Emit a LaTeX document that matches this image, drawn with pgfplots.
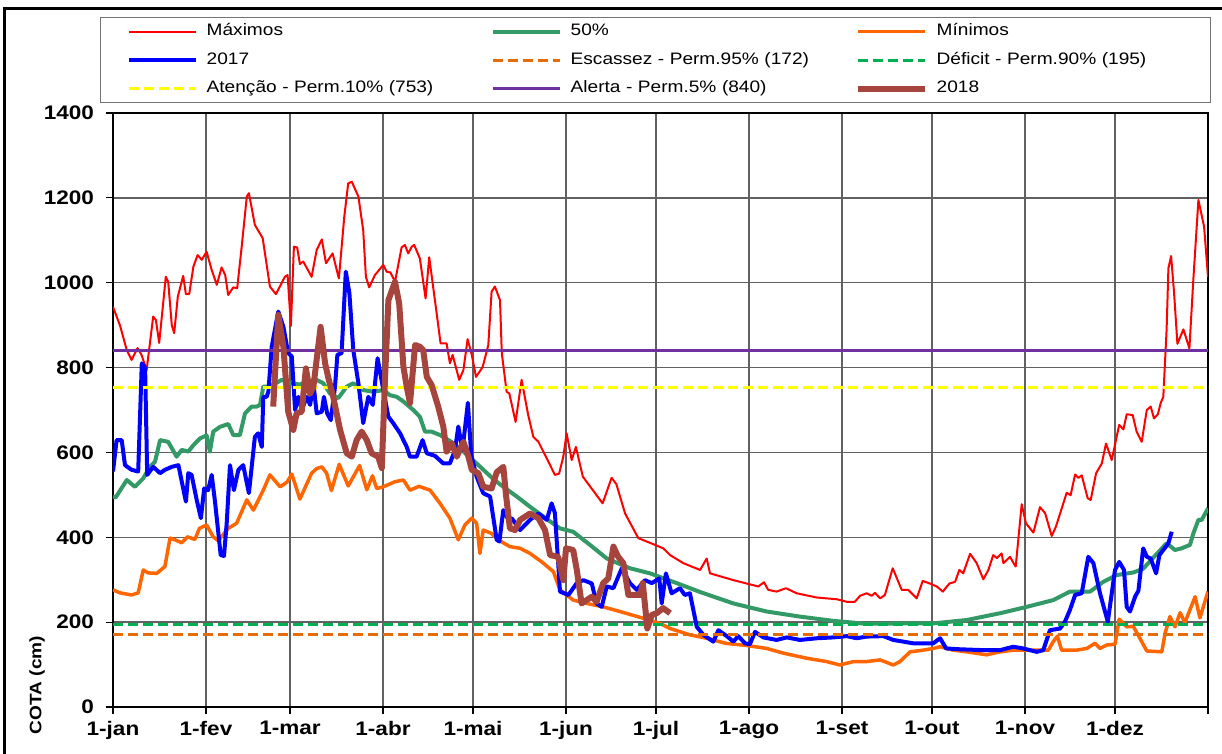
\documentclass[border=0pt]{standalone}
\usepackage{fontspec}
\setmainfont{Liberation Sans}[FakeStretch=1.15]
\usepackage{pgfplots}
\pgfplotsset{compat=1.18}

\definecolor{cMax}{HTML}{FF0000}
\definecolor{cMed}{HTML}{339966}
\definecolor{cMin}{HTML}{FF6600}
\definecolor{c17}{HTML}{0000FF}
\definecolor{cEsc}{HTML}{E46C0A}
\definecolor{cDef}{HTML}{00B050}
\definecolor{cAte}{HTML}{FFFF00}
\definecolor{cAle}{HTML}{7030A0}
\definecolor{c18}{HTML}{A6443E}

\begin{document}
\begin{tikzpicture}
\begin{axis}[
  at={(0,0)}, anchor=south west,
  scale only axis, width=547.5pt, height=297pt,
  xmin=0, xmax=365, ymin=0, ymax=1400,
  xtick={0,31,59,90,120,151,181,212,243,273,304,334,365},
  xticklabels={1-jan,1-fev,1-mar,1-abr,1-mai,1-jun,1-jul,1-ago,1-set,1-out,1-nov,1-dez,},
  ytick={0,200,...,1400},
  grid=major, grid style={black!62, line width=0.75pt},
  axis line style={line width=1.2pt},
  tick align=outside, xtick pos=bottom, ytick pos=left, major tick length=3.5pt,
  tick style={black, line width=0.6pt},
  ticklabel style={font=\fontsize{9.8}{10}\selectfont\bfseries},
  yticklabel style={xshift=-2.5pt},
  /pgf/number format/assume math mode=true, /pgf/number format/1000 sep={},
  ylabel={COTA (cm)},
  ylabel style={at={(axis description cs:-0.0694,0.037)}, anchor=center, font=\fontsize{8.3}{9}\selectfont\bfseries},
  legend columns=3, legend cell align=left,
  legend image code/.code={\draw[#1] (0pt,0pt) -- (33.5pt,0pt);},
  legend style={at={(axis description cs:-0.01187,1.1616)}, anchor=north west,
    draw=black!55, line width=0.7pt, inner xsep=13pt, inner ysep=2.75pt, row sep=5.75pt,
    font=\fontsize{8.3}{9}\selectfont,
    nodes={inner sep=0pt, text width=124pt, align=left, text height=6.2pt, text depth=2.3pt},
    /tikz/every odd column/.append style={column sep=4.5pt},
    /tikz/every even column/.append style={column sep=18pt}},
]
% Maximos
\addplot[cMax, line width=1pt, line join=round] coordinates {
(0,943) (2.3,900) (4.6,841) (6.2,818) (8.2,846) (9.5,830) (11.2,794) (13.4,920) (14.3,912) (15.4,858)
(17.6,1014) (18.4,1002) (19.6,900) (20.4,881) (21.6,967) (23.4,1016) (24.3,973) (25.4,973) (26.8,1038)
(28.2,1065) (29.6,1054) (31.2,1073) (32.9,1030) (34.6,995) (36.2,1036) (37.4,1018) (38.4,971) (40.1,989)
(41.4,987) (42.9,1085) (44.6,1203) (45.3,1211) (47.3,1136) (49.9,1105) (52.3,991) (54.3,973) (55.7,992)
(57.3,1014) (58.2,1018) (59.3,898) (60.3,1085) (61.4,1083) (62.3,1044) (63.4,1050) (64.5,1036) (66.2,1014)
(67.9,1077) (69.6,1102) (71,1046) (73.2,1069) (75.3,1010) (77.1,1156) (78.4,1234) (79.6,1238) (81.8,1203)
(83.4,1124) (84.3,1014) (85.4,989) (87.3,1018) (90.1,1042) (91.2,1026) (92.5,1024) (94,1002) (96.2,1083)
(97.3,1089) (98.4,1069) (99.6,1085) (100.4,1089) (102.3,1057) (104.2,963) (105.4,1060) (107.3,959)
(109.2,857) (111.2,857) (112.3,810) (113.2,830) (115.4,771) (116.8,794) (118.2,867) (119.6,830) (121,778)
(123.2,801) (125.1,853) (126.2,979) (127.3,991) (129,959) (129.6,834) (131.2,743) (132.1,739) (134.2,672)
(136.2,771) (138.4,688) (140.1,637) (141.8,625) (145.7,570) (147.3,547) (148.7,550) (150.1,590) (151.2,645)
(152.9,582) (154.3,613) (156.6,543) (163.2,480) (166.2,540) (167.8,525) (170.7,456) (175.1,398) (180.7,382)
(183.4,374) (185.7,358) (190.1,339) (195.7,323) (197.9,350) (199,315) (206.8,299) (215.1,284) (217,294)
(218.4,276) (221.2,272) (224.3,280) (227.9,268) (234.6,258) (241.2,254) (244.6,248) (247.3,248) (249,262)
(251.2,268) (252.9,262) (254,269) (255.7,256) (257.3,264) (259.9,327) (262.9,276) (265.1,276) (267.9,256)
(269.9,297) (272.3,291) (274.6,284) (276.6,272) (278.8,291) (280.7,295) (282.1,323) (283.4,315) (285.7,361)
(287.9,339) (290.1,301) (291.8,323) (293.4,358) (294.6,351) (296.2,362) (296.8,339) (299,354) (300.1,340)
(300.9,331) (302.9,478) (304.3,433) (306.8,411) (309,471) (310.7,457) (312.9,403) (314.3,425) (317.9,505)
(319.2,499) (320.7,548) (321.8,540) (322.9,546) (324.9,492) (325.9,488) (327.7,551) (329.6,574) (331,621)
(332.9,582) (335.4,665) (336.8,654) (337.9,690) (339.9,688) (341.2,649) (342.9,625) (344.6,700) (345.9,708)
(347,680) (348.3,690) (349.2,716) (350.1,731) (351.2,889) (351.8,1034) (352.7,1063) (353.7,975) (354.8,856)
(356.8,890) (358.8,845) (360.1,1006) (361.8,1195) (363.7,1132) (365,1014)
};
\addlegendentry{Máximos}
% 50%
\addplot[cMed, line width=2pt, line join=round] coordinates {
(0,496) (0.9,494) (4.6,535) (7.3,519) (10.1,539) (12.3,566) (14,578) (15.7,629) (18.4,625) (21.2,590)
(22.9,606) (25.1,602) (26.8,617) (29,633) (31.2,640) (32.3,602) (33.4,649) (35.6,660) (38.4,667) (40.1,641)
(42.3,641) (44,692) (46.2,708) (47.9,708) (49,712) (50.1,755) (52.3,755) (56.2,771) (59,763) (62.3,760)
(64.6,767) (67.9,771) (70.1,763) (72.3,739) (75.1,728) (77.9,755) (80.1,763) (83.4,747) (86.8,743) (90.1,747)
(92.3,735) (94.6,731) (96.8,720) (100.1,700) (102.3,684) (104,649) (106.2,649) (109,641) (112.3,627)
(116.8,602) (121.2,574) (126.8,537) (130.1,519) (134.6,496) (139,472) (143.4,449) (149,421) (153.4,413)
(159,382) (164.6,350) (172.3,327) (179,315) (187.9,292) (195.7,271) (206.8,244) (217.9,225) (229,213)
(240.1,203) (251.2,196) (262.3,197) (273.4,197) (284.6,205) (295.7,221) (304.6,236) (313.4,252) (319,272)
(325.7,272) (330.1,295) (334.6,311) (340.1,317) (343.4,326) (351.2,386) (354,370) (356.2,374) (359,382)
(360.1,409) (361.8,441) (362.9,441) (365,468)
};
\addlegendentry{50\%}
% Minimos
\addplot[cMin, line width=1.75pt, line join=round] coordinates {
(0,276) (2.3,269) (6.2,264) (8.4,269) (10.1,323) (11.7,316) (14.6,315) (17.3,331) (19,398) (20.7,394)
(22.9,387) (24.8,401) (27.3,395) (28.8,421) (31.2,429) (33.4,401) (35.1,392) (38.4,421) (41.2,433)
(44.6,488) (46.8,464) (50.1,511) (52.3,547) (55.7,519) (58,530) (59.6,549) (62.3,490) (66.2,551) (67.9,562)
(69.6,566) (71.2,551) (72.8,510) (75.4,572) (78.4,521) (82.2,569) (84.6,512) (86.5,545) (87.9,515) (90.1,519)
(94,531) (96.8,535) (99,511) (102,520) (105.7,511) (109,480) (112.3,445) (115.1,394) (117.3,429) (119.6,445)
(121.2,433) (122.3,362) (123.4,417) (126.2,409) (128.4,394) (132.3,378) (135.7,374) (139,362) (142.9,342)
(146.8,319) (149,276) (153.4,252) (157.9,244) (163.4,236) (169,225) (176.8,209) (182.3,197) (185.7,185)
(192.3,170) (197.9,162) (204.3,150) (211.2,145) (217.9,138) (223.4,127) (231.2,115) (237.9,107) (242.3,99)
(246.8,107) (251.2,107) (255.7,111) (260.1,99) (262.3,107) (265.7,130) (270.1,134) (273.4,138) (275.7,142)
(280.1,134) (284.6,130) (291.2,123) (295.7,130) (300.1,134) (304.6,134) (311.8,134) (313.4,154) (314.8,167)
(316.2,134) (321.2,134) (324.6,138) (327.3,150) (329,138) (331.2,146) (334,148) (335.4,207) (337.9,189)
(340.1,190) (344.6,132) (349.6,130) (350.7,174) (352.3,213) (354,189) (355.7,222) (357.3,199) (360.7,260)
(362.3,210) (365,272)
};
\addlegendentry{Mínimos}
% 2017
\addplot[c17, line width=2pt, line join=round] coordinates {
(0,555) (1.2,629) (2.9,629) (4,570) (6.2,559) (8.4,555) (9.6,810) (10.7,800) (11.4,547) (13.4,566)
(15.7,551) (17.3,559) (19.6,566) (21.8,570) (24.3,484) (25.1,551) (26.2,547) (27.9,488) (29.3,445)
(30.4,515) (31.7,511) (32.9,547) (34,484) (35.9,358) (37,356) (37.9,433) (39,570) (40.3,511) (41.8,559)
(43.4,570) (45.3,504) (47.3,637) (48.4,645) (49.6,613) (50.1,731) (51.2,731) (51.8,743) (52.9,849)
(55.1,932) (56.8,896) (58.4,834) (59.6,826) (60.7,700) (61.8,731) (62.9,700) (64.6,731) (65.7,712)
(66.8,763) (67.9,692) (69.6,696) (70.3,731) (71.4,692) (72.6,676) (74,755) (74.8,830) (76.2,834)
(77.6,1026) (78.8,975) (80.1,841) (81.8,763) (83.4,669) (85.1,731) (86.6,712) (88.2,822) (90.1,747)
(91.8,684) (93.4,669) (95.7,645) (97.9,613) (99,590) (101.2,590) (103.2,629) (104.6,598) (107.3,592)
(110.1,574) (112.3,574) (114,606) (115.1,661) (116.5,606) (118.3,717) (119.4,594) (121.2,543) (123.4,504)
(125.7,496) (127.9,394) (128.8,390) (130.1,464) (131.8,441) (132.9,445) (135.7,417) (139,441) (141.8,456)
(144.6,441) (146.2,480) (147.3,457) (148.4,339) (149,272) (151.8,264) (154.6,292) (156.8,299) (159.6,291)
(161.2,244) (162.9,236) (164.6,284) (166.8,280) (169.6,327) (172.3,292) (174.6,276) (177.3,299) (179.6,292)
(182.1,303) (182.9,244) (184.3,315) (186.2,268) (189,280) (190.6,264) (192.3,268) (194.6,189) (196.8,170)
(200.1,154) (201.8,181) (204.6,167) (206.8,154) (208.4,167) (210.7,150) (212.3,148) (214,177) (216.8,164)
(221.2,158) (224.6,164) (229,158) (234.6,162) (240.1,164) (244.6,167) (247.9,162) (251.2,166) (256.8,167)
(260.1,158) (266.8,150) (273.4,150) (275.7,162) (277.7,138) (282.3,136) (290.1,134) (295.7,134) (300.1,142)
(303.4,138) (307.9,130) (310.1,134) (312.3,181) (315.7,185) (317.3,201) (319,229) (320.7,264) (322.9,268)
(325.1,354) (326.8,339) (329,268) (331.6,201) (334,323) (335.4,342) (337,323) (337.9,236) (339,225)
(340.7,260) (341.8,274) (343.4,374) (344.6,354) (345.9,350) (347.7,315) (348.8,358) (350.1,370)
(351.8,386) (352.9,413)
};
\addlegendentry{2017}
\addplot[cEsc, line width=1.5pt, dash pattern=on 5pt off 2.5pt] coordinates {(0,172) (365,172)};
\addlegendentry{Escassez - Perm.95\% (172)}
\addplot[cDef, line width=1.5pt, dash pattern=on 5pt off 2.5pt] coordinates {(0,195) (365,195)};
\addlegendentry{Déficit - Perm.90\% (195)}
\addplot[cAte, line width=1.5pt, dash pattern=on 5pt off 2.5pt] coordinates {(0,753) (365,753)};
\addlegendentry{Atenção - Perm.10\% (753)}
\addplot[cAle, line width=1.5pt] coordinates {(0,840) (365,840)};
\addlegendentry{Alerta - Perm.5\% (840)}
% 2018
\addplot[c18, line width=3pt, line join=round] coordinates {
(53.4,708) (55.1,924) (56.8,849) (58.4,696) (60.1,653) (61.2,692) (62.9,696) (64.3,798) (65.7,739)
(66.8,755) (69.2,896) (70.7,810) (71.8,775) (73.4,731) (75.7,653) (77.9,598) (79.6,590) (81.2,629)
(82.9,649) (84.6,629) (86.2,598) (88.4,590) (89.6,563) (90.7,778) (91.8,959) (94,1002) (95.4,951)
(96.8,802) (97.9,755) (99,716) (100.7,853) (102.3,849) (103.4,841) (104.6,778) (106.2,759) (108.4,708)
(110.1,661) (111.2,602) (112.9,622) (114.6,590) (116.8,625) (118.4,592) (119.6,559) (121.8,551)
(123.4,519) (126.2,515) (127.9,553) (130.1,566) (131,500) (132.3,421) (134,417) (135.7,441) (139,456)
(141.8,445) (144,417) (145.7,358) (148.4,354) (150.1,299) (151,374) (153.4,370) (154.6,323) (156.2,244)
(157.9,252) (159.6,260) (161.2,248) (163.4,292) (165.1,303) (166.8,378) (168.4,354) (170.1,339)
(171.8,264) (175.7,264) (176.6,292) (178.1,185) (179.6,217) (181.2,221) (183.4,233) (185.7,221)
};
\addlegendentry{2018}
\end{axis}
\draw[line width=1.5pt] (-54pt,-40pt) -- (-54pt,349pt) -- (570pt,349pt);
\pgfresetboundingbox
\path[use as bounding box] (-56.5pt,-23.5pt) rectangle (554.5pt,353.5pt);
\end{tikzpicture}
\end{document}
